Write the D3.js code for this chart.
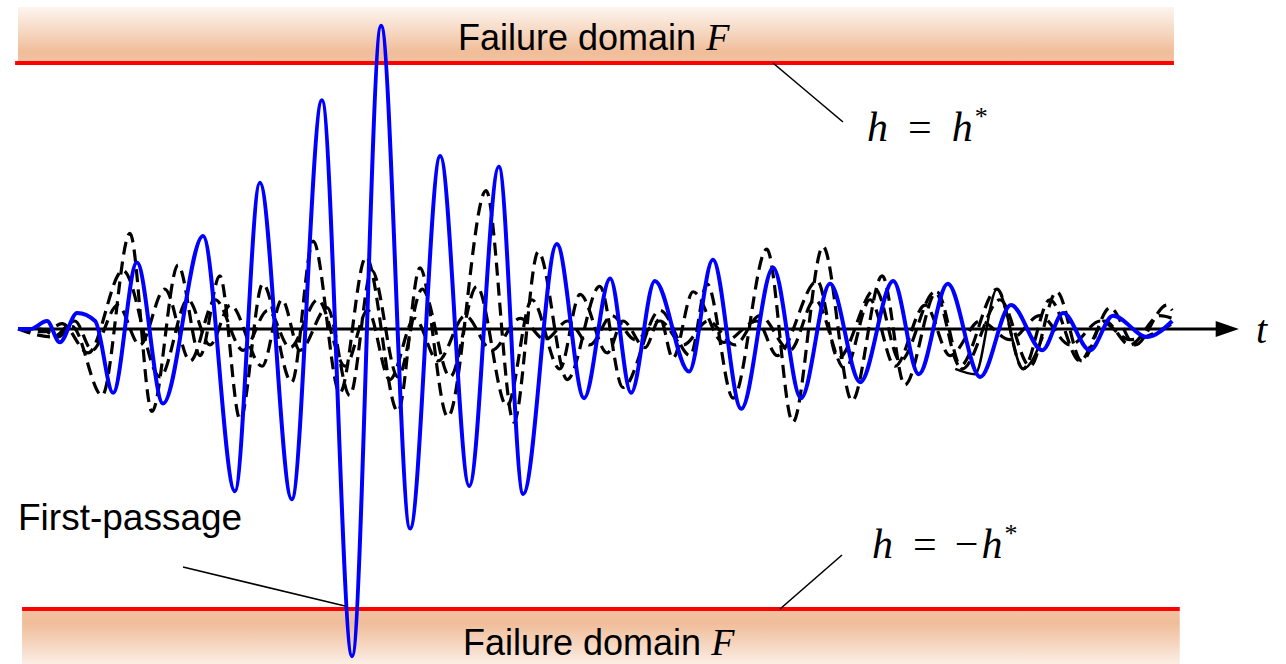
<!DOCTYPE html>
<html>
<head>
<meta charset="utf-8">
<script src="https://cdn.jsdelivr.net/npm/d3@7"></script>
<style>
  html, body { margin: 0; padding: 0; background: #fff; }
  svg { display: block; }
  .sans { font-family: "Liberation Sans", Arial, sans-serif; }
  .math { font-family: "Liberation Serif", "Times New Roman", serif; font-style: italic; }
</style>
</head>
<body>
<div id="chart"></div>
<script>
// time axis in seconds, response h normalised so that h* = 1
const thresholdUpper = 1.0;
const thresholdLower = -1.053;

const blueT = [0.00, 0.21, 0.50, 0.72, 1.02, 1.33, 1.64, 2.05, 2.50, 3.19, 3.74, 4.17, 4.72, 5.24, 5.76, 6.26, 6.76, 7.28, 7.78, 8.29, 8.71, 9.29, 9.76, 10.21, 10.57, 10.98, 11.57, 11.98, 12.47, 13.02, 13.50, 14.00, 14.52, 15.09, 15.53, 16.03, 16.59, 17.12, 17.66, 18.02, 18.48, 18.88, 19.47, 19.90];
const blueH = [0.00, 0.00, 0.03, -0.05, 0.06, 0.03, -0.24, 0.25, -0.28, 0.35, -0.61, 0.55, -0.64, 0.86, -1.23, 1.14, -0.75, 0.65, -0.59, 0.61, -0.62, 0.32, -0.26, 0.19, -0.24, 0.18, -0.16, 0.26, -0.30, 0.23, -0.26, 0.17, -0.20, 0.18, -0.17, 0.17, -0.18, 0.09, -0.08, 0.06, -0.08, 0.05, -0.03, 0.03];

// other samples (dashed black)
const dash1T = [0.00, 0.38, 0.69, 0.93, 1.45, 1.93, 2.31, 2.76, 3.14, 3.48, 3.83, 4.22, 4.72, 5.09, 5.55, 6.00, 6.55, 6.93, 7.41, 8.07, 8.55, 8.97, 9.47, 10.03, 10.43, 11.07, 11.59, 11.88, 12.33, 12.91, 13.36, 13.88, 14.38, 14.90, 15.29, 15.84, 16.28, 16.93, 17.45, 17.91, 18.34, 18.83, 19.26, 19.81, 19.90];
const dash1H = [0.00, 0.00, -0.03, 0.01, -0.25, 0.36, -0.31, 0.24, -0.10, 0.20, -0.34, 0.17, -0.20, 0.33, -0.24, 0.27, -0.31, 0.23, -0.33, 0.52, -0.35, 0.29, -0.19, 0.16, -0.22, 0.07, -0.10, 0.17, -0.26, 0.30, -0.35, 0.31, -0.27, 0.20, -0.21, 0.14, -0.15, 0.11, -0.14, 0.14, -0.12, 0.08, -0.06, 0.09, 0.07];

const dash2T = [0.00, 0.47, 0.76, 1.21, 1.81, 2.45, 2.93, 3.31, 3.66, 4.21, 4.55, 4.86, 5.33, 5.72, 6.10, 6.55, 6.97, 7.45, 7.91, 8.43, 8.86, 9.34, 9.69, 10.16, 10.43, 10.81, 11.07, 11.29, 11.64, 12.16, 12.74, 13.09, 13.78, 14.14, 14.78, 15.21, 15.81, 16.24, 16.88, 17.33, 17.79, 18.31, 18.74, 19.17, 19.69, 19.90];
const dash2H = [0.00, -0.01, 0.02, -0.09, 0.22, -0.18, 0.11, -0.06, 0.09, -0.14, 0.11, -0.08, 0.08, -0.25, 0.22, -0.18, 0.15, -0.18, 0.16, -0.29, 0.11, -0.15, 0.13, -0.09, 0.03, -0.07, 0.04, -0.11, 0.14, -0.05, 0.03, -0.10, 0.18, -0.11, 0.15, -0.12, 0.14, -0.14, 0.15, -0.15, 0.11, -0.12, 0.03, -0.06, 0.05, 0.04];

const dash3T = [0.00, 0.60, 0.98, 1.28, 1.72, 2.10, 2.53, 2.97, 3.40, 3.88, 4.31, 4.69, 5.17, 5.64, 6.03, 6.41, 6.84, 7.24, 7.71, 8.17, 8.66, 9.09, 9.48, 9.86, 10.24, 10.64, 11.07, 11.47, 11.90, 12.36, 12.79, 13.31, 13.74, 14.26, 14.69, 15.12, 15.64, 16.07, 16.59, 17.10, 17.62, 18.14, 18.66, 19.17, 19.90];
const dash3H = [0.00, -0.03, 0.03, -0.08, 0.09, -0.06, 0.15, -0.12, 0.11, -0.08, 0.07, -0.07, 0.11, -0.14, 0.07, -0.19, 0.04, -0.12, 0.05, -0.08, 0.04, -0.04, 0.03, -0.06, 0.05, -0.04, 0.03, -0.06, 0.03, -0.06, 0.05, -0.08, 0.11, -0.15, 0.11, -0.14, 0.09, -0.10, 0.03, -0.04, 0.05, -0.06, 0.03, -0.04, 0.02];

// short solid black piece near the end
const solidT = [16.16, 16.50, 16.88, 17.33, 17.67];
const solidH = [-0.15, -0.17, 0.15, -0.15, -0.03];

const W = 1286, H = 664;

const x = d3.scaleLinear().domain([0, 20]).range([18, 1178]);
const y = d3.scaleLinear().domain([-1, 1]).range([595, 63]);

const svg = d3.select("#chart").append("svg")
    .attr("width", W)
    .attr("height", H);

const defs = svg.append("defs");

const gTop = defs.append("linearGradient")
    .attr("id", "band-top")
    .attr("x1", 0).attr("y1", 0).attr("x2", 0).attr("y2", 1);
gTop.selectAll("stop")
    .data([
        { offset: 0, color: "#fdf5ef" },
        { offset: 0.45, color: "#f6d7c1" },
        { offset: 0.8, color: "#f0bd99" },
        { offset: 1, color: "#f2c3a2" }
    ])
    .enter().append("stop")
    .attr("offset", d => `${d.offset * 100}%`)
    .attr("stop-color", d => d.color);

const gBot = defs.append("linearGradient")
    .attr("id", "band-bottom")
    .attr("x1", 0).attr("y1", 0).attr("x2", 0).attr("y2", 1);
gBot.selectAll("stop")
    .data([
        { offset: 0, color: "#f2c3a2" },
        { offset: 0.25, color: "#f0bd99" },
        { offset: 0.65, color: "#f6d6c0" },
        { offset: 1, color: "#fcefe6" }
    ])
    .enter().append("stop")
    .attr("offset", d => `${d.offset * 100}%`)
    .attr("stop-color", d => d.color);

// failure domains
svg.append("rect")
    .attr("x", x(0)).attr("y", 7)
    .attr("width", x(19.93) - x(0))
    .attr("height", y(thresholdUpper) - 7)
    .style("fill", "url(#band-top)");

svg.append("rect")
    .attr("x", x(0.07)).attr("y", y(thresholdLower))
    .attr("width", x(20.03) - x(0.07))
    .attr("height", H - y(thresholdLower))
    .style("fill", "url(#band-bottom)");

svg.append("line")
    .attr("x1", x(-0.05)).attr("x2", x(19.93))
    .attr("y1", y(thresholdUpper)).attr("y2", y(thresholdUpper))
    .attr("stroke", "#ff0000").attr("stroke-width", 4);

svg.append("line")
    .attr("x1", x(0.07)).attr("x2", x(20.03))
    .attr("y1", y(thresholdLower)).attr("y2", y(thresholdLower))
    .attr("stroke", "#ff0000").attr("stroke-width", 4);

// time axis with arrow
svg.append("line")
    .attr("x1", x(0)).attr("x2", x(20.75))
    .attr("y1", y(0)).attr("y2", y(0))
    .attr("stroke", "#000").attr("stroke-width", 3);

svg.append("path")
    .attr("d", `M${x(20.65)},${y(0) - 8} L${x(21.05)},${y(0)} L${x(20.65)},${y(0) + 8} Z`)
    .attr("fill", "#000");

svg.append("text")
    .attr("class", "math")
    .attr("x", 1256).attr("y", y(0) + 14)
    .style("font-size", "40px")
    .text("t");

const zip = (ts, hs) => ts.map((t, i) => [t, hs[i]]);

const line = d3.line()
    .x(d => x(d[0]))
    .y(d => y(d[1]))
    .curve(d3.curveMonotoneX);

[zip(dash1T, dash1H), zip(dash2T, dash2H), zip(dash3T, dash3H)].forEach(s => {
    svg.append("path")
        .datum(s)
        .attr("d", line)
        .attr("fill", "none")
        .attr("stroke", "#000")
        .attr("stroke-width", 3.2)
        .attr("stroke-dasharray", "13,7");
});

svg.append("path")
    .datum(zip(solidT, solidH))
    .attr("d", line)
    .attr("fill", "none")
    .attr("stroke", "#000")
    .attr("stroke-width", 2.5);

svg.append("path")
    .datum(zip(blueT, blueH))
    .attr("d", line)
    .attr("fill", "none")
    .attr("stroke", "#0000ff")
    .attr("stroke-width", 4)
    .attr("stroke-linejoin", "round");

// labels
const domainLabel = (yy, xx) => {
    const t = svg.append("text")
        .attr("class", "sans")
        .attr("x", xx).attr("y", yy)
        .style("font-size", "36px");
    t.append("tspan").text("Failure domain ");
    t.append("tspan").attr("class", "math").style("font-size", "38px").text("F");
};
domainLabel(50, 458);
domainLabel(655, 463);

svg.append("text")
    .attr("class", "sans")
    .attr("x", 18).attr("y", 530)
    .style("font-size", "37px")
    .text("First-passage");

const mathLabel = (xx, yy, neg) => {
    const t = svg.append("text")
        .attr("x", xx).attr("y", yy)
        .style("font-family", "'Liberation Serif', serif")
        .style("font-size", "42px");
    t.append("tspan").attr("font-style", "italic").text("h");
    t.append("tspan").attr("dx", 20).text("=");
    if (neg) t.append("tspan").attr("dx", 18).text("\u2212");
    t.append("tspan").attr("dx", neg ? 3 : 20).attr("font-style", "italic").text("h");
    t.append("tspan").attr("dx", 2).attr("dy", -16).style("font-size", "26px").text("*");
};
mathLabel(867, 141, false);
mathLabel(872, 558, true);

// leader lines
const leaders = [
    [[773, 63], [843, 122]],
    [[780, 609], [842, 555]],
    [[183, 567], [345, 606]]
];
svg.selectAll(".leader")
    .data(leaders)
    .enter().append("line")
    .attr("class", "leader")
    .attr("x1", d => d[0][0]).attr("y1", d => d[0][1])
    .attr("x2", d => d[1][0]).attr("y2", d => d[1][1])
    .attr("stroke", "#000").attr("stroke-width", 1.6);
</script>
</body>
</html>
